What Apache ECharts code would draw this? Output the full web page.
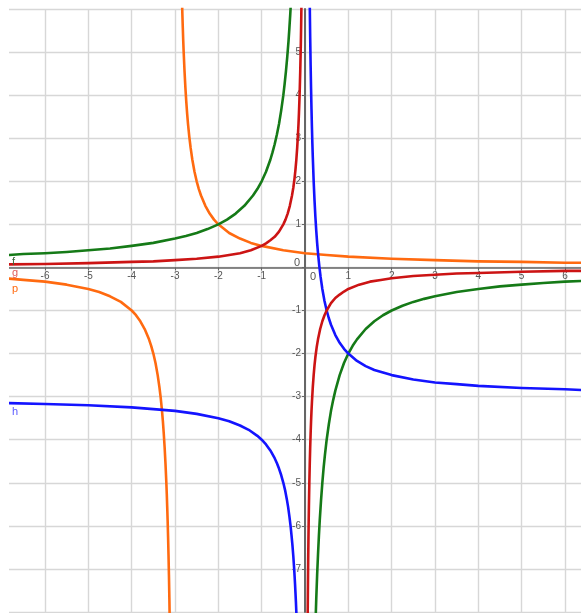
<!DOCTYPE html>
<html>
<head>
<meta charset="utf-8">
<script src="https://cdn.jsdelivr.net/npm/echarts@6/dist/echarts.min.js"></script>
<style>
	html, body {margin: 0; padding: 0; background: #fff;}
	#main {width: 581px; height: 613px;}
</style>
</head>
<body>
<div id="main"></div>
<script>
// points, one list per branch of each curve
let fLeft = [[-6.83, 0.29], [-6.5, 0.31], [-6, 0.33], [-5.5, 0.36], [-5, 0.4], [-4.5, 0.44], [-4, 0.5], [-3.5, 0.57], [-3, 0.67], [-2.75, 0.73], [-2.5, 0.8], [-2.25, 0.89], [-2, 1.0], [-1.8, 1.11], [-1.6, 1.25], [-1.4, 1.43], [-1.2, 1.67], [-1.1, 1.82], [-1, 2.0], [-0.9, 2.22], [-0.8, 2.5], [-0.75, 2.67], [-0.7, 2.86], [-0.65, 3.08], [-0.6, 3.33], [-0.55, 3.64], [-0.5, 4.0], [-0.47, 4.26], [-0.44, 4.55], [-0.41, 4.88], [-0.38, 5.26], [-0.36, 5.56], [-0.34, 5.88], [-0.32, 6.25]];
let fRight = [[0.24, -8.33], [0.26, -7.69], [0.28, -7.14], [0.3, -6.67], [0.32, -6.25], [0.34, -5.88], [0.37, -5.41], [0.4, -5.0], [0.43, -4.65], [0.46, -4.35], [0.5, -4.0], [0.55, -3.64], [0.6, -3.33], [0.65, -3.08], [0.7, -2.86], [0.8, -2.5], [0.9, -2.22], [1, -2.0], [1.1, -1.82], [1.2, -1.67], [1.4, -1.43], [1.6, -1.25], [1.8, -1.11], [2, -1.0], [2.25, -0.89], [2.5, -0.8], [2.75, -0.73], [3, -0.67], [3.5, -0.57], [4, -0.5], [4.5, -0.44], [5, -0.4], [5.5, -0.36], [6, -0.33], [6.5, -0.31]];
let gLeft = [[-6.83, 0.07], [-6, 0.08], [-5, 0.1], [-4, 0.13], [-3.5, 0.14], [-3, 0.17], [-2.5, 0.2], [-2, 0.25], [-1.75, 0.29], [-1.5, 0.33], [-1.25, 0.4], [-1, 0.5], [-0.9, 0.56], [-0.8, 0.63], [-0.7, 0.71], [-0.6, 0.83], [-0.5, 1.0], [-0.45, 1.11], [-0.4, 1.25], [-0.35, 1.43], [-0.3, 1.67], [-0.27, 1.85], [-0.24, 2.08], [-0.22, 2.27], [-0.2, 2.5], [-0.18, 2.78], [-0.16, 3.13], [-0.15, 3.33], [-0.14, 3.57], [-0.13, 3.85], [-0.12, 4.17], [-0.11, 4.55], [-0.1, 5.0], [-0.095, 5.26], [-0.09, 5.56], [-0.085, 5.88], [-0.08, 6.25]];
let gRight = [[0.06, -8.33], [0.065, -7.69], [0.07, -7.14], [0.075, -6.67], [0.08, -6.25], [0.085, -5.88], [0.09, -5.56], [0.1, -5.0], [0.11, -4.55], [0.12, -4.17], [0.13, -3.85], [0.14, -3.57], [0.15, -3.33], [0.16, -3.13], [0.18, -2.78], [0.2, -2.5], [0.22, -2.27], [0.24, -2.08], [0.27, -1.85], [0.3, -1.67], [0.35, -1.43], [0.4, -1.25], [0.45, -1.11], [0.5, -1.0], [0.6, -0.83], [0.7, -0.71], [0.8, -0.63], [0.9, -0.56], [1, -0.5], [1.25, -0.4], [1.5, -0.33], [1.75, -0.29], [2, -0.25], [2.5, -0.2], [3, -0.17], [3.5, -0.14], [4, -0.13], [5, -0.1], [6, -0.08], [6.5, -0.08]];
let hLeft = [[-6.83, -3.15], [-6, -3.17], [-5, -3.2], [-4, -3.25], [-3.5, -3.29], [-3, -3.33], [-2.5, -3.4], [-2, -3.5], [-1.75, -3.57], [-1.5, -3.67], [-1.3, -3.77], [-1.1, -3.91], [-1, -4.0], [-0.9, -4.11], [-0.8, -4.25], [-0.7, -4.43], [-0.65, -4.54], [-0.6, -4.67], [-0.55, -4.82], [-0.5, -5.0], [-0.46, -5.17], [-0.42, -5.38], [-0.39, -5.56], [-0.36, -5.78], [-0.33, -6.03], [-0.31, -6.23], [-0.29, -6.45], [-0.27, -6.7], [-0.25, -7.0], [-0.24, -7.17], [-0.23, -7.35], [-0.22, -7.55], [-0.21, -7.76], [-0.2, -8.0], [-0.19, -8.26]];
let hRight = [[0.11, 6.09], [0.115, 5.7], [0.12, 5.33], [0.125, 5.0], [0.13, 4.69], [0.14, 4.14], [0.15, 3.67], [0.16, 3.25], [0.17, 2.88], [0.18, 2.56], [0.2, 2.0], [0.22, 1.55], [0.24, 1.17], [0.26, 0.85], [0.28, 0.57], [0.3, 0.33], [0.33, 0.03], [0.36, -0.22], [0.4, -0.5], [0.45, -0.78], [0.5, -1.0], [0.55, -1.18], [0.6, -1.33], [0.7, -1.57], [0.8, -1.75], [0.9, -1.89], [1, -2.0], [1.2, -2.17], [1.4, -2.29], [1.6, -2.38], [1.8, -2.44], [2, -2.5], [2.5, -2.6], [3, -2.67], [3.5, -2.71], [4, -2.75], [5, -2.8], [6, -2.83], [6.5, -2.85]];
let pLeft = [[-6.83, -0.26], [-6.5, -0.29], [-6, -0.33], [-5.5, -0.4], [-5, -0.5], [-4.75, -0.57], [-4.5, -0.67], [-4.25, -0.8], [-4, -1.0], [-3.9, -1.11], [-3.8, -1.25], [-3.7, -1.43], [-3.6, -1.67], [-3.55, -1.82], [-3.5, -2.0], [-3.45, -2.22], [-3.4, -2.5], [-3.36, -2.78], [-3.33, -3.03], [-3.3, -3.33], [-3.28, -3.57], [-3.26, -3.85], [-3.24, -4.17], [-3.22, -4.55], [-3.2, -5.0], [-3.19, -5.26], [-3.18, -5.56], [-3.17, -5.88], [-3.16, -6.25], [-3.15, -6.67], [-3.14, -7.14], [-3.13, -7.69], [-3.12, -8.33]];
let pRight = [[-2.84, 6.25], [-2.83, 5.88], [-2.82, 5.56], [-2.81, 5.26], [-2.8, 5.0], [-2.78, 4.55], [-2.76, 4.17], [-2.74, 3.85], [-2.72, 3.57], [-2.7, 3.33], [-2.67, 3.03], [-2.64, 2.78], [-2.6, 2.5], [-2.55, 2.22], [-2.5, 2.0], [-2.45, 1.82], [-2.4, 1.67], [-2.3, 1.43], [-2.2, 1.25], [-2.1, 1.11], [-2, 1.0], [-1.75, 0.8], [-1.5, 0.67], [-1.25, 0.57], [-1, 0.5], [-0.5, 0.4], [0, 0.33], [0.5, 0.29], [1, 0.25], [2, 0.2], [3, 0.17], [4, 0.14], [5, 0.13], [6, 0.11], [6.5, 0.11]];

let xMin = -7, xMax = 6.5;
let yMin = -8, yMax = 6;

const GREEN = '#157a17';
const RED = '#cc1414';
const BLUE = '#1414ff';
const ORANGE = '#ff6a10';

// layout: one unit is about 43.3px wide and 43.1px tall, origin at (305, 267)
let pxX = 43.33;
let gridTop = 9, gridBottom = 1;
let gridLeft = 305 + xMin * pxX;
let gridRight = 581 - (305 + xMax * pxX);
let pxY = (613 - gridTop - gridBottom) / (yMax - yMin);

function curve(name, data, color) {
	return {
		name: name,
		type: 'line',
		data: data,
		symbol: 'none',
		smooth: false,
		clip: true,
		lineStyle: {color: color, width: 2.6, cap: 'round', join: 'round'},
		z: 3
	};
}

function hideZero(v) {
	return v === 0 ? '' : String(v);
}

function labelText(text, x, y, color) {
	return {
		type: 'text', left: x, top: y, z: 120,
		style: {text: text, fill: color, font: '11px "Liberation Sans", Arial, sans-serif'}
	};
}

let axisGray = '#666';
let gridGray = '#d7d7d7';

let myCharts = echarts.init(document.getElementById('main'), null, {renderer: 'canvas'});
let option = {
	animation: false,
	backgroundColor: '#fff',
	grid: {left: gridLeft, top: gridTop, right: gridRight, bottom: gridBottom, containLabel: false, outerBoundsMode: 'none'},
	xAxis: {
		type: 'value', min: xMin, max: xMax, interval: 1,
		position: 'bottom',
		offset: -(0 - yMin) * pxY,
		axisLine: {onZero: false, lineStyle: {color: axisGray, width: 1.6}},
		axisTick: {show: true, length: 3, lineStyle: {color: axisGray}},
		axisLabel: {
			color: '#555', fontSize: 10, margin: 4,
			fontFamily: '"Liberation Sans", Arial, sans-serif',
			showMinLabel: false, showMaxLabel: false,
			formatter: hideZero
		},
		splitLine: {show: true, showMinLine: false, showMaxLine: false, lineStyle: {color: gridGray, width: 1.4}}
	},
	yAxis: {
		type: 'value', min: yMin, max: yMax, interval: 1,
		position: 'left',
		offset: -(0 - xMin) * pxX,
		axisLine: {onZero: false, lineStyle: {color: axisGray, width: 2}},
		axisTick: {show: true, length: 3, lineStyle: {color: axisGray}},
		axisLabel: {
			color: '#555', fontSize: 10, margin: 4,
			fontFamily: '"Liberation Sans", Arial, sans-serif',
			showMinLabel: false, showMaxLabel: false,
			formatter: hideZero
		},
		splitLine: {show: true, lineStyle: {color: gridGray, width: 1.4}}
	},
	series: [
		curve('p', pLeft, ORANGE),
		curve('p', pRight, ORANGE),
		curve('f', fLeft, GREEN),
		curve('f', fRight, GREEN),
		curve('h', hLeft, BLUE),
		curve('h', hRight, BLUE),
		curve('g', gLeft, RED),
		curve('g', gRight, RED)
	],
	graphic: [
		// the view starts a few px in from the left edge
		{type: 'rect', left: 0, top: 0, z: 100, shape: {width: 9, height: 613}, style: {fill: '#fff'}},
		labelText('f', 12, 256, '#3d6b3d'),
		labelText('g', 12, 267, '#e05a5a'),
		labelText('p', 12, 283, ORANGE),
		labelText('h', 12, 406, '#5a5aff'),
		labelText('0', 294, 257, '#555'),
		labelText('0', 310, 271, '#555')
	]
};
myCharts.setOption(option);
</script>
</body>
</html>
